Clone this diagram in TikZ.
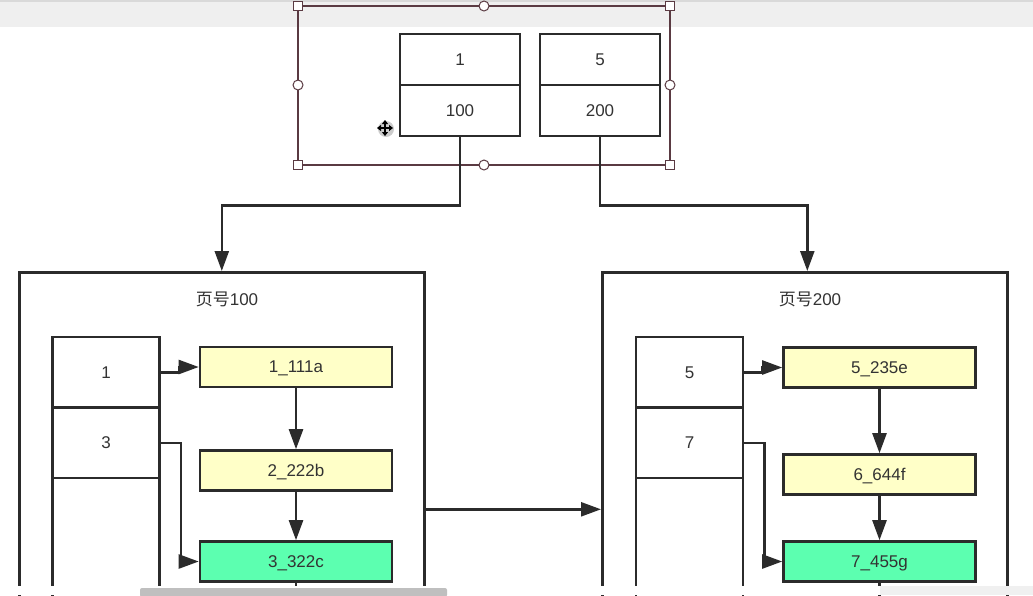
\documentclass[tikz,border=0pt]{standalone}
\usepackage{fontspec}
\setmainfont{Liberation Sans}
\newfontfamily\cjk{Noto Sans CJK SC}
\usetikzlibrary{arrows.meta,calc}
\definecolor{ink}{HTML}{2B2B2B}
\definecolor{txt}{HTML}{333333}
\definecolor{recyellow}{HTML}{FFFFC8}
\definecolor{recgreen}{HTML}{5CFFB0}
\definecolor{selcol}{HTML}{5A3A42}
\definecolor{barbg}{HTML}{EFEFEF}
\tikzset{
  cell/.style={draw=ink, line width=2.6pt, fill=white, minimum width=120pt, minimum height=51pt,
    inner sep=0pt, font=\fontsize{17}{17}\selectfont, text=txt, text depth=0pt},
  dircell/.style={draw=ink, line width=2.6pt, fill=white, minimum width=107pt, minimum height=71pt,
    inner sep=0pt, font=\fontsize{17}{17}\selectfont, text=txt, text depth=0pt},
  rec/.style={draw=ink, line width=2.6pt, fill=recyellow, minimum width=192pt, minimum height=40pt,
    inner sep=0pt, font=\fontsize{17}{17}\selectfont, text=txt, text depth=0pt},
  hit/.style={rec, fill=recgreen},
  pagebox/.style={draw=ink, line width=2.6pt, minimum width=405pt, minimum height=474pt,
    inner sep=0pt, anchor=north west},
  pagetitle/.style={font=\fontsize{17}{17}\selectfont, text=txt},
  link/.style={draw=ink, line width=2.4pt},
  arr/.style={link, -{Triangle[length=20pt,width=14pt]}},
  handlesq/.style={draw=selcol, fill=white, line width=1pt, minimum size=9pt, inner sep=0pt},
  handlecirc/.style={circle, draw=selcol, fill=white, line width=1pt, minimum size=10pt, inner sep=0pt},
}
\begin{document}
\begin{tikzpicture}[x=1pt,y=-1pt]
\useasboundingbox (0,0) rectangle (1033,595);
\begin{scope}
\clip (0,0) rectangle (1033,595);
\fill[white] (0,0) rectangle (1033,595);
% editor toolbar strip
\fill[barbg] (0,0) rectangle (1033,27);
\fill[black!15] (0,0) rectangle (1033,1.5);

% root page: two key/pointer pairs
\draw[selcol, line width=2.4pt] (298,6) rectangle (670,165);
\node[cell] (k1t) at (460,59.5) {1};
\node[cell] (k1b) at (460,110.5) {100};
\node[cell] (k2t) at (600,59.5) {5};
\node[cell] (k2b) at (600,110.5) {200};

% selection handles
\foreach \hx/\hy [count=\i] in {298/6,670/6,298/165,670/165}
  \node[handlesq] (hs\i) at (\hx,\hy) {};
\foreach \hx/\hy [count=\i] in {484/6,484/165,298/85,670/85}
  \node[handlecirc] (hc\i) at (\hx,\hy) {};

% move cursor
\begin{scope}[shift={(385,128)}]
  \fill[black!20] (1,1) circle (8);
  \foreach \a in {0,90,180,270}
    \draw[black, line width=1.6pt, -{Triangle[length=4pt,width=6pt]}, rotate=\a] (0,0) -- (8,0);
\end{scope}

% leaf pages
\node[pagebox] (pg1) at (18,271) {};
\node[pagebox] (pg2) at (601,271) {};
\node[pagetitle] (t1) at (227,299) {{\cjk 页号}100};
\node[pagetitle] (t2) at (810,299) {{\cjk 页号}200};

% page directories
\node[dircell] (d1a) at (106,372.5) {1};
\node[dircell] (d1b) at (106,443) {3};
\node[dircell, minimum height=150pt] (d1c) at (106,553) {};
\node[dircell] (d2a) at (689.5,372.5) {5};
\node[dircell] (d2b) at (689.5,443) {7};
\node[dircell, minimum height=150pt] (d2c) at (689.5,553) {};

% user records
\node[rec] (r1) at (296,367) {1\_111a};
\node[rec] (r2) at (296,470.5) {2\_222b};
\node[hit] (r3) at (296,561.5) {3\_322c};
\node[rec] (s1) at (879.5,367.5) {5\_235e};
\node[rec] (s2) at (879.5,474.5) {6\_644f};
\node[hit] (s3) at (879.5,561.5) {7\_455g};

% root pointers to leaf pages
\draw[arr] (k1b.south) -- ++(0,68) -| (pg1.north);
\draw[arr] (k2b.south) -- ++(0,68) -| ($(pg2.north)+(2.5,0)$);

% sibling link between pages
\draw[arr] (pg1.east) -- (pg2.west);

% directory slots to records
\draw[arr] (d1a.east) -- ++(18,0) |- (r1.west);
\draw[arr] (d1b.east) -- ++(20,0) |- (r3.west);
\draw[arr] (d2a.east) -- ++(18,0) |- (s1.west);
\draw[arr] (d2b.east) -- ++(20,0) |- (s3.west);

% record chains
\draw[arr] (r1) -- (r2);
\draw[arr] (r2) -- (r3);
\draw[link] (r3.south) -- ++(0,20);
\draw[arr] (s1) -- (s2);
\draw[arr] (s2) -- (s3);
\draw[link] (s3.south) -- ++(0,20);

% bottom edge with scrollbar
\fill[white] (0,585.5) rectangle (1033,595);
\fill[black!6] (880,585.5) rectangle (1033,595);
\fill[black!25, rounded corners=2pt] (140,588) rectangle (447,597);
\end{scope}
\end{tikzpicture}
\end{document}
